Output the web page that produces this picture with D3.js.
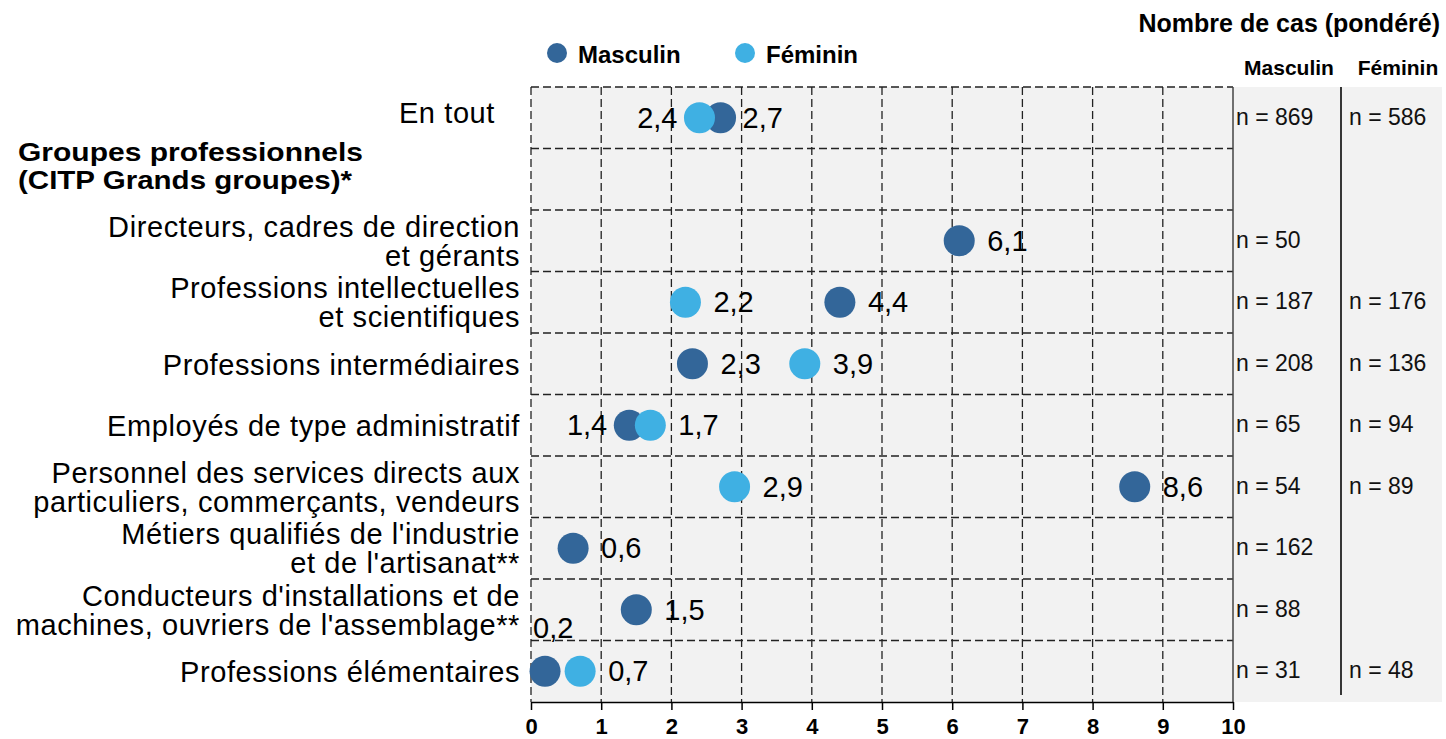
<!DOCTYPE html>
<head>
<meta charset="utf-8">
<style>
body { margin: 0; background: #fff; }
svg { font-family: "Liberation Sans", Arial, sans-serif; }
.cat { font-size: 29px; fill: #000; letter-spacing: 0.6px; }
.val { font-size: 29px; fill: #000; }
.nlab { font-size: 23px; fill: #111; }
.grid { stroke: #222; stroke-width: 1.3; stroke-dasharray: 8,4; }
.xaxis text { font-size: 22px; font-weight: bold; fill: #000; }
.xaxis path, .xaxis line { stroke: #000; stroke-width: 1.5; }
</style>
</head>
<body>
<script src="https://cdn.jsdelivr.net/npm/d3@7"></script>
<script>

// data
var categories = ["En tout", "Groupes", "Directeurs", "Intellectuelles", "Intermediaires",
                  "Employes", "Services", "Metiers", "Conducteurs", "Elementaires"];
var catLines = [
  ["En tout"],
  [],
  ["Directeurs, cadres de direction", "et gérants"],
  ["Professions intellectuelles", "et scientifiques"],
  ["Professions intermédiaires"],
  ["Employés de type administratif"],
  ["Personnel des services directs aux", "particuliers, commerçants, vendeurs"],
  ["Métiers qualifiés de l'industrie", "et de l'artisanat**"],
  ["Conducteurs d'installations et de", "machines, ouvriers de l'assemblage**"],
  ["Professions élémentaires"]
];
var groupTitle = ["Groupes professionnels", "(CITP Grands groupes)*"];
var masculin = [2.7, null, 6.1, 4.4, 2.3, 1.4, 8.6, 0.6, 1.5, 0.2];
var feminin  = [2.4, null, null, 2.2, 3.9, 1.7, 2.9, null, null, 0.7];
// where each value label sits relative to its dot
var masculinPos = ["right", null, "right", "right", "right", "left", "right", "right", "right", "above"];
var femininPos  = ["left", null, null, "right", "right", "right", "right", null, null, "right"];
var nMasculin = [869, null, 50, 187, 208, 65, 54, 162, 88, 31];
var nFeminin  = [586, null, null, 176, 136, 94, 89, null, null, 48];
var xTicks = [0, 1, 2, 3, 4, 5, 6, 7, 8, 9, 10];

var dark = "#336699", light = "#3fb0e3";
var width = 1446, height = 739;
var pLeft = 531, pRight = 1233, pTop = 87, pBottom = 702;
var r = 15.5;

var svg = d3.select("body").append("svg")
  .attr("width", width).attr("height", height);

var x = d3.scaleLinear().domain([0, 10]).range([pLeft, pRight]);
var y = d3.scaleBand().domain(categories).range([pTop, pBottom]);
var bw = y.bandwidth();
function cy(i) { return y(categories[i]) + bw / 2; }

// grey background (plot + n columns)
svg.append("rect").attr("x", pLeft).attr("y", pTop)
  .attr("width", 1442 - pLeft).attr("height", pBottom - pTop)
  .attr("fill", "#f2f2f2");

// dashed grid
svg.selectAll(".vgrid").data(xTicks.slice(0, 10)).enter().append("line")
  .attr("class", "grid")
  .attr("x1", function(d) { return x(d); }).attr("x2", function(d) { return x(d); })
  .attr("y1", pTop).attr("y2", pBottom);
svg.selectAll(".hgrid").data(categories).enter().append("line")
  .attr("class", "grid")
  .attr("x1", pLeft).attr("x2", pRight)
  .attr("y1", function(d) { return y(d); }).attr("y2", function(d) { return y(d); });

// separators of the n columns
svg.append("line").attr("x1", pRight).attr("x2", pRight).attr("y1", pTop).attr("y2", pBottom)
  .attr("stroke", "#444").attr("stroke-width", 1.5);
svg.append("line").attr("x1", 1341).attr("x2", 1341).attr("y1", pTop).attr("y2", 695)
  .attr("stroke", "#222").attr("stroke-width", 1.8);

// x axis
svg.append("g").attr("class", "xaxis")
  .attr("transform", "translate(0," + pBottom + ")")
  .call(d3.axisBottom(x).tickValues(xTicks).tickSize(8).tickSizeOuter(0).tickPadding(8));

// category labels
catLines.forEach(function(lines, i) {
  var c = cy(i);
  if (i == 0) {
    svg.append("text").attr("class", "cat").attr("x", 495).attr("y", 123)
      .attr("text-anchor", "end").text(lines[0]);
    return;
  }
  if (lines.length == 1) {
    svg.append("text").attr("class", "cat").attr("x", 520).attr("y", c + 11)
      .attr("text-anchor", "end").text(lines[0]);
  } else if (lines.length == 2) {
    svg.append("text").attr("class", "cat").attr("x", 520).attr("y", c - 4)
      .attr("text-anchor", "end").text(lines[0]);
    svg.append("text").attr("class", "cat").attr("x", 520).attr("y", c + 25)
      .attr("text-anchor", "end").text(lines[1]);
  }
});
svg.append("text").attr("x", 18).attr("y", 161)
  .style("font-size", "26px").style("font-weight", "bold")
  .attr("textLength", 345).attr("lengthAdjust", "spacingAndGlyphs")
  .text(groupTitle[0]);
svg.append("text").attr("x", 18).attr("y", 189)
  .style("font-size", "26px").style("font-weight", "bold")
  .attr("textLength", 334).attr("lengthAdjust", "spacingAndGlyphs")
  .text(groupTitle[1]);

function fmt(v) { return String(v.toFixed(1)).replace(".", ","); }

function drawSeries(values, pos, color) {
  values.forEach(function(v, i) {
    if (v == null) return;
    svg.append("circle").attr("cx", x(v)).attr("cy", cy(i)).attr("r", r).attr("fill", color);
    var t = svg.append("text").attr("class", "val").text(fmt(v));
    var gap = (i == 0) ? 22 : 28;
    if (pos[i] == "right") {
      t.attr("x", x(v) + gap).attr("y", cy(i) + 10);
    } else if (pos[i] == "left") {
      t.attr("x", x(v) - 22).attr("y", cy(i) + 10).attr("text-anchor", "end");
    } else {
      t.attr("x", x(0) + 2).attr("y", y(categories[i]) - 3);
    }
  });
}
drawSeries(masculin, masculinPos, dark);
drawSeries(feminin, femininPos, light);

// n columns
nMasculin.forEach(function(n, i) {
  if (n == null) return;
  svg.append("text").attr("class", "nlab").attr("x", 1236).attr("y", cy(i) + 7).text("n = " + n);
});
nFeminin.forEach(function(n, i) {
  if (n == null) return;
  svg.append("text").attr("class", "nlab").attr("x", 1349).attr("y", cy(i) + 7).text("n = " + n);
});

// headers
svg.append("text").attr("x", 1440).attr("y", 32).attr("text-anchor", "end")
  .style("font-size", "25px").style("font-weight", "bold").text("Nombre de cas (pondéré)");
svg.append("text").attr("x", 1289).attr("y", 75).attr("text-anchor", "middle")
  .style("font-size", "21px").style("font-weight", "bold").text("Masculin");
svg.append("text").attr("x", 1398).attr("y", 75).attr("text-anchor", "middle")
  .style("font-size", "21px").style("font-weight", "bold").text("Féminin");

// legend
var legend = [{name: "Masculin", color: dark, x: 557}, {name: "Féminin", color: light, x: 745}];
var lg = svg.selectAll(".lg").data(legend).enter().append("g");
lg.append("circle").attr("cx", function(d) { return d.x; }).attr("cy", 53).attr("r", 10)
  .attr("fill", function(d) { return d.color; });
lg.append("text").attr("x", function(d) { return d.x + 21; }).attr("y", 63)
  .style("font-size", "24px").style("font-weight", "bold").text(function(d) { return d.name; });

</script>
</body>
